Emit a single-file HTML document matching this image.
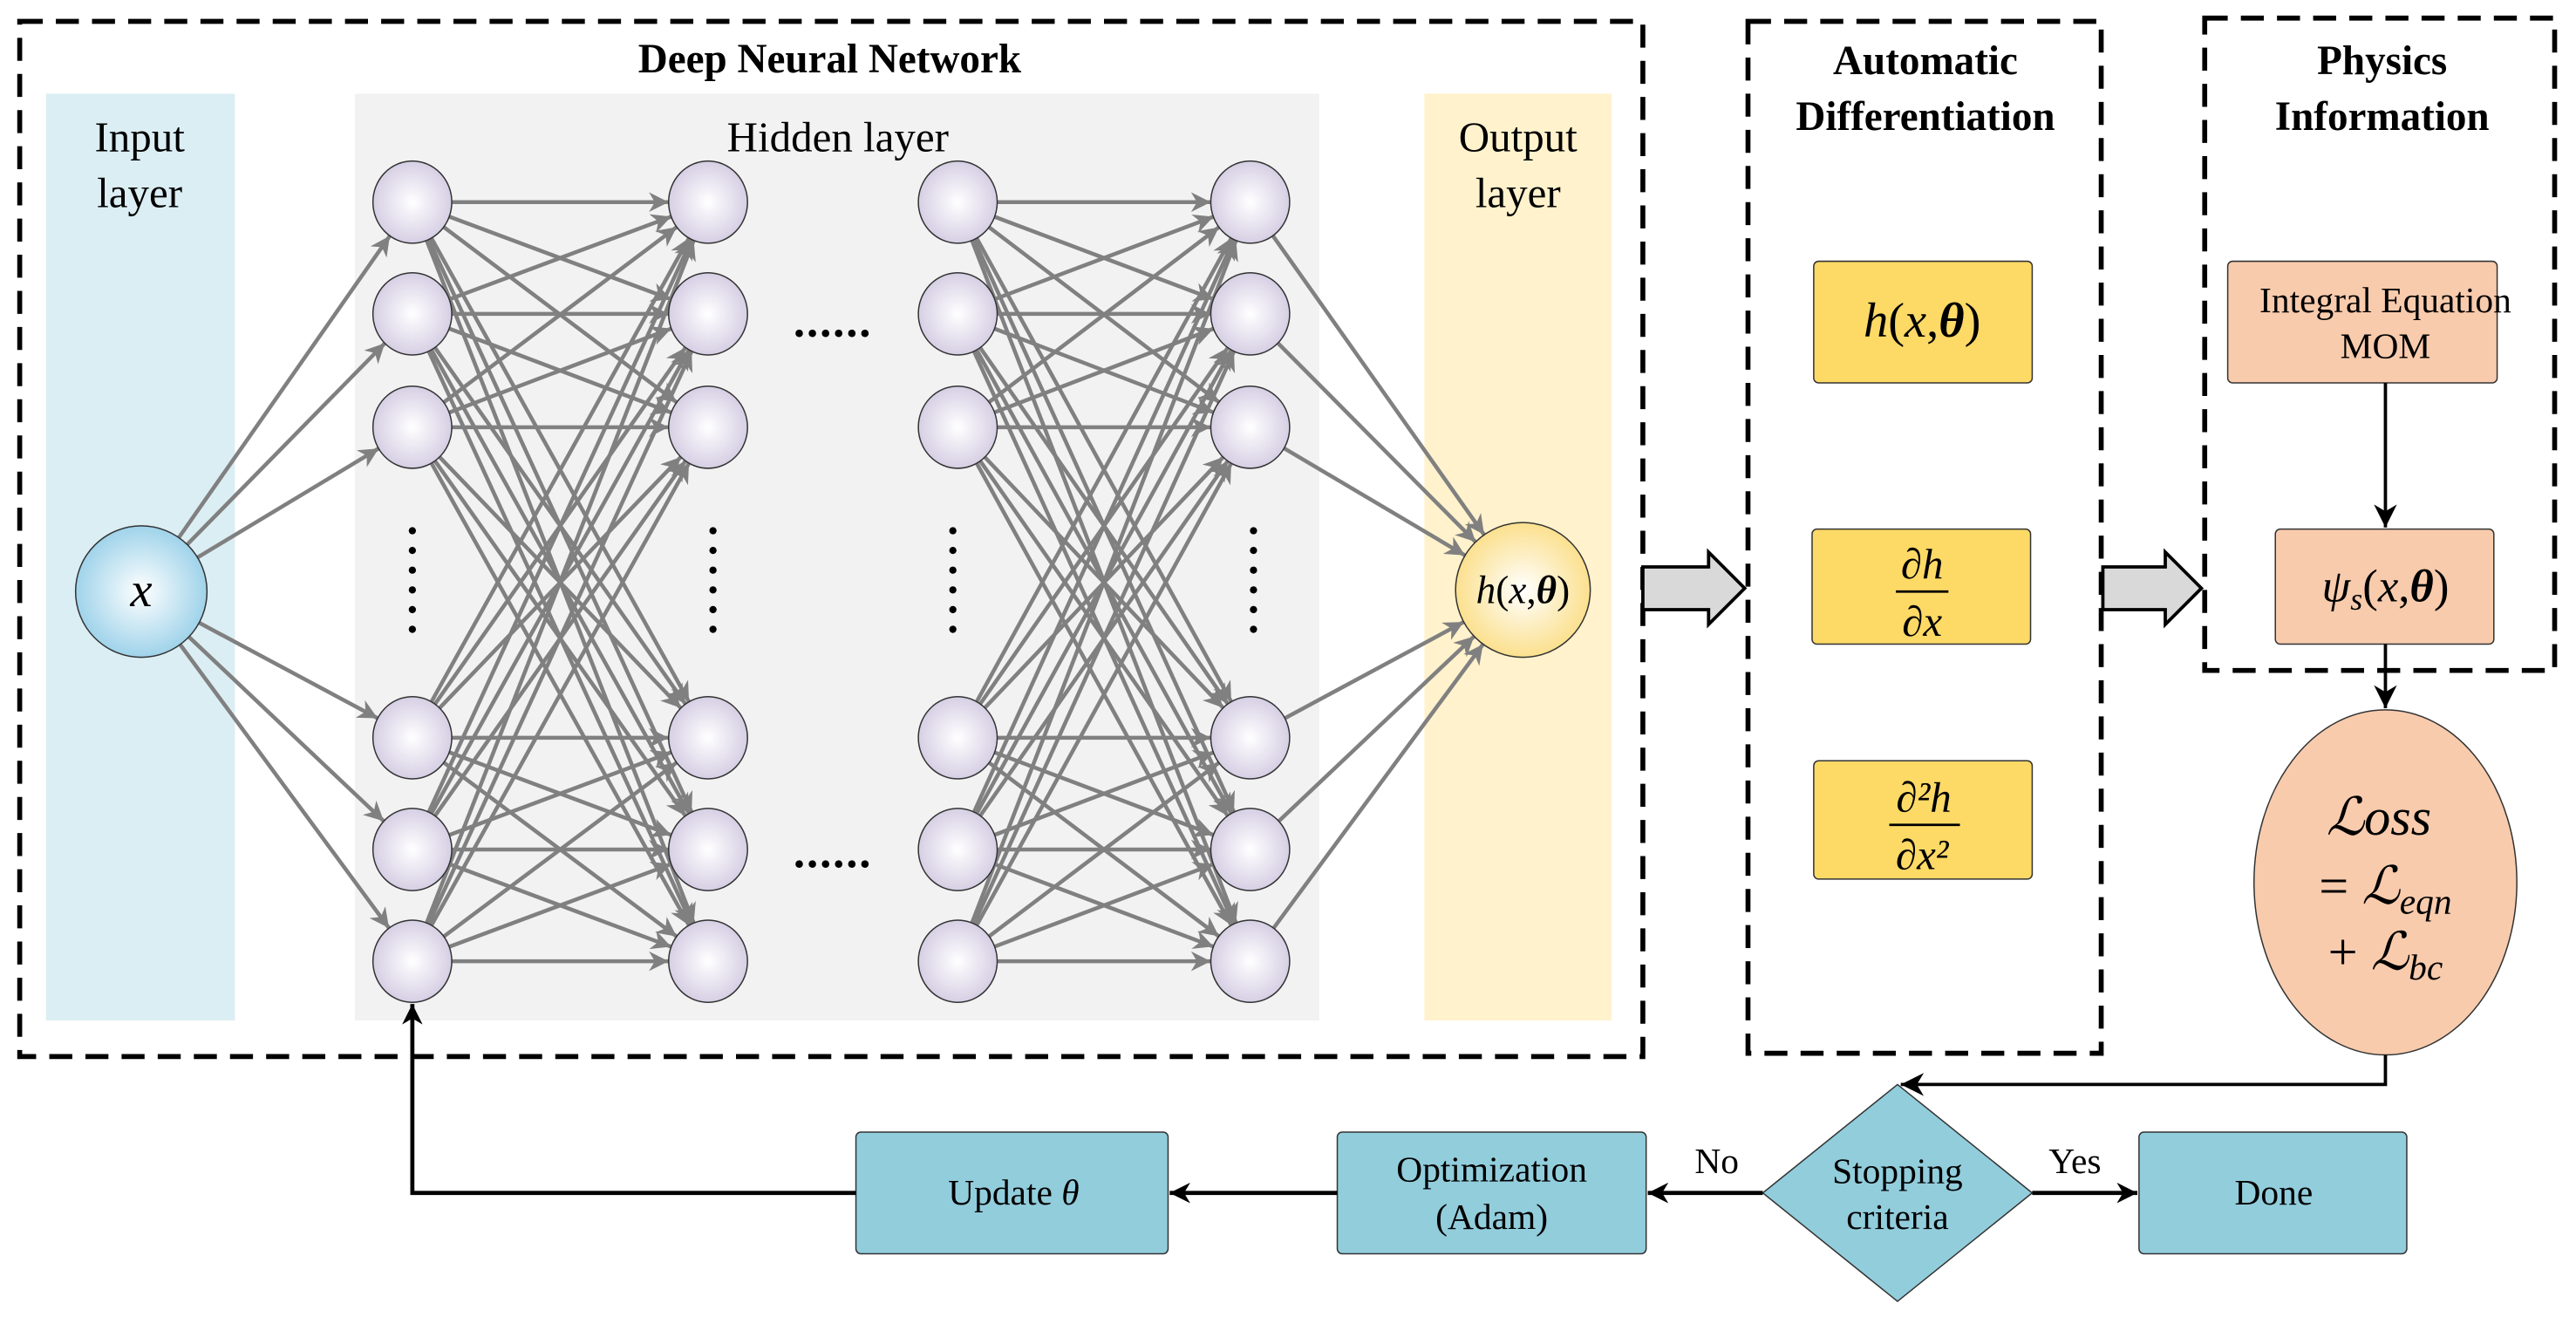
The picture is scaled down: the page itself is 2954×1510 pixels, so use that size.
<!DOCTYPE html>
<html><head><meta charset="utf-8">
<style>
html,body{margin:0;padding:0;background:#fff;}
svg{display:block;}
svg, svg text{font-family:"Liberation Serif","Times New Roman","DejaVu Serif",serif;}
</style></head>
<body>
<svg id="s" xmlns="http://www.w3.org/2000/svg" width="2954" height="1510" viewBox="0 0 1568 801.5" font-family="Liberation Serif, Times New Roman, DejaVu Serif, serif">
<defs>
<radialGradient id="gp" cx="50%" cy="50%" r="50%"><stop offset="0" stop-color="#ffffff"/><stop offset="1" stop-color="#d6cfe4"/></radialGradient>
<radialGradient id="gb" cx="50%" cy="50%" r="50%"><stop offset="0" stop-color="#ffffff"/><stop offset="1" stop-color="#9fd3ea"/></radialGradient>
<radialGradient id="gy" cx="50%" cy="50%" r="50%"><stop offset="0" stop-color="#ffffff"/><stop offset="1" stop-color="#fbe08e"/></radialGradient>
<marker id="ag" viewBox="0 0 10 10" refX="10" refY="5" markerWidth="5" markerHeight="5" orient="auto" markerUnits="strokeWidth"><path d="M0,0 L10,5 L0,10 L3,5 z" fill="#808080"/></marker>
<marker id="ak" viewBox="0 0 10 10" refX="10" refY="5" markerWidth="5" markerHeight="5" orient="auto" markerUnits="strokeWidth"><path d="M0,0 L10,5 L0,10 L3,5 z" fill="#000"/></marker>
<marker id="ak2" viewBox="0 0 10 10" refX="10" refY="5" markerWidth="7" markerHeight="7" orient="auto" markerUnits="strokeWidth"><path d="M0,0 L10,5 L0,10 L3,5 z" fill="#000"/></marker>
</defs>

<rect x="28" y="57" width="115" height="564" fill="#dbeef4"/>
<rect x="216" y="57" width="587" height="564" fill="#f2f2f2"/>
<rect x="867" y="57" width="114" height="564" fill="#fff2cc"/>

<g fill="none" stroke="#000" stroke-width="3" stroke-dasharray="14,8">
<rect x="12" y="13" width="988" height="630"/>
<rect x="1064" y="13" width="215" height="628"/>
<rect x="1342" y="11" width="213" height="397"/>
</g>

<text x="505" y="44" font-size="25" font-weight="bold" text-anchor="middle">Deep Neural Network</text>
<text x="85" y="92" font-size="26" text-anchor="middle">Input</text>
<text x="85" y="126" font-size="26" text-anchor="middle">layer</text>
<text x="510" y="92" font-size="26" text-anchor="middle">Hidden layer</text>
<text x="924" y="92" font-size="26" text-anchor="middle">Output</text>
<text x="924" y="126" font-size="26" text-anchor="middle">layer</text>

<g id="net" stroke="#808080" stroke-width="2.4" fill="none"></g>
<g id="nodes"></g>

<ellipse cx="86" cy="360" rx="40" ry="40" fill="url(#gb)" stroke="#333" stroke-width="0.8"/>
<text x="86" y="369" font-size="30" font-style="italic" text-anchor="middle">x</text>
<ellipse cx="927" cy="359" rx="41" ry="41" fill="url(#gy)" stroke="#333" stroke-width="0.8"/>
<text x="927" y="367" font-size="24" text-anchor="middle"><tspan font-style="italic">h</tspan>(<tspan font-style="italic">x</tspan>,<tspan font-weight="bold" font-style="italic">θ</tspan>)</text>

<g fill="#000" id="dots"></g>
<text x="507" y="205" font-size="28" text-anchor="middle" font-weight="bold" letter-spacing="1">......</text>
<text x="507" y="528" font-size="28" text-anchor="middle" font-weight="bold" letter-spacing="1">......</text>

<path d="M1000,345 L1040,345 L1040,336 L1062,358 L1040,380 L1040,371 L1000,371 Z" fill="#d9d9d9" stroke="#000" stroke-width="2"/>
<path d="M1280,345 L1318,345 L1318,336 L1340,358 L1318,380 L1318,371 L1280,371 Z" fill="#d9d9d9" stroke="#000" stroke-width="2"/>

<text x="1172" y="45" font-size="25" font-weight="bold" text-anchor="middle">Automatic</text>
<text x="1172" y="79" font-size="25" font-weight="bold" text-anchor="middle">Differentiation</text>
<text x="1450" y="45" font-size="25" font-weight="bold" text-anchor="middle">Physics</text>
<text x="1450" y="79" font-size="25" font-weight="bold" text-anchor="middle">Information</text>

<g stroke="#333" stroke-width="0.8">
<rect x="1104" y="159" width="133" height="74" rx="3" fill="#fdd966"/>
<rect x="1103" y="322" width="133" height="70" rx="3" fill="#fdd966"/>
<rect x="1104" y="463" width="133" height="72" rx="3" fill="#fdd966"/>
<rect x="1356" y="159" width="164" height="74" rx="3" fill="#f8cbad"/>
<rect x="1385" y="322" width="133" height="70" rx="3" fill="#f8cbad"/>
</g>
<text x="1170" y="205" font-size="30" text-anchor="middle"><tspan font-style="italic">h</tspan>(<tspan font-style="italic">x</tspan>,<tspan font-weight="bold" font-style="italic">θ</tspan>)</text>
<text x="1170" y="352" font-size="26" font-style="italic" text-anchor="middle">∂h</text>
<line x1="1154" y1="360" x2="1186" y2="360" stroke="#000" stroke-width="1.5"/>
<text x="1170" y="387" font-size="26" font-style="italic" text-anchor="middle">∂x</text>
<text x="1171" y="494" font-size="26" font-style="italic" text-anchor="middle">∂²h</text>
<line x1="1150" y1="502" x2="1193" y2="502" stroke="#000" stroke-width="1.5"/>
<text x="1170" y="529" font-size="26" font-style="italic" text-anchor="middle">∂x²</text>
<text x="1452" y="190" font-size="22" text-anchor="middle">Integral Equation</text>
<text x="1452" y="218" font-size="22" text-anchor="middle">MOM</text>
<text x="1452" y="366" font-size="28" text-anchor="middle"><tspan font-style="italic">ψ</tspan><tspan font-style="italic" font-size="19" dy="5">s</tspan><tspan dy="-5">(</tspan><tspan font-style="italic">x</tspan>,<tspan font-weight="bold" font-style="italic">θ</tspan>)</text>

<line x1="1452" y1="233" x2="1452" y2="321" stroke="#000" stroke-width="2" marker-end="url(#ak2)"/>
<line x1="1452" y1="392" x2="1452" y2="431" stroke="#000" stroke-width="2" marker-end="url(#ak2)"/>

<ellipse cx="1452" cy="537" rx="80" ry="105" fill="#f8cbad" stroke="#333" stroke-width="0.8"/>
<text x="1448" y="508" font-size="32" font-style="italic" text-anchor="middle">ℒoss</text>
<text x="1452" y="550" font-size="32" text-anchor="middle">= <tspan font-style="italic">ℒ</tspan><tspan font-style="italic" font-size="22" dy="6">eqn</tspan></text>
<text x="1452" y="590" font-size="32" text-anchor="middle">+ <tspan font-style="italic">ℒ</tspan><tspan font-style="italic" font-size="22" dy="6">bc</tspan></text>

<polyline points="1452,642 1452,660 1157,660" fill="none" stroke="#000" stroke-width="2" marker-end="url(#ak2)"/>

<polygon points="1155,660 1237,726 1155,792 1073,726" fill="#92cddc" stroke="#333" stroke-width="0.8"/>
<text x="1155" y="720" font-size="22" text-anchor="middle">Stopping</text>
<text x="1155" y="748" font-size="22" text-anchor="middle">criteria</text>

<g fill="#92cddc" stroke="#333" stroke-width="0.8">
<rect x="1302" y="689" width="163" height="74" rx="3"/>
<rect x="814" y="689" width="188" height="74" rx="3"/>
<rect x="521" y="689" width="190" height="74" rx="3"/>
</g>
<text x="1384" y="733" font-size="22" text-anchor="middle">Done</text>
<text x="908" y="719" font-size="22" text-anchor="middle">Optimization</text>
<text x="908" y="748" font-size="22" text-anchor="middle">(Adam)</text>
<text x="617" y="733" font-size="22" text-anchor="middle">Update <tspan font-style="italic">θ</tspan></text>
<text x="1263" y="714" font-size="22" text-anchor="middle">Yes</text>
<text x="1045" y="714" font-size="22" text-anchor="middle">No</text>

<g stroke="#000" stroke-width="2.5" fill="none">
<line x1="1237" y1="726" x2="1301" y2="726" marker-end="url(#ak)"/>
<line x1="1073" y1="726" x2="1003" y2="726" marker-end="url(#ak)"/>
<line x1="814" y1="726" x2="712" y2="726" marker-end="url(#ak)"/>
<polyline points="521,726 251,726 251,611" marker-end="url(#ak)"/>
</g>
</svg>
<script>
(function(){
var NS="http://www.w3.org/2000/svg";
var net=document.getElementById('net'),nodes=document.getElementById('nodes'),dots=document.getElementById('dots');
var cols=[251,431,583,761],rows=[123,191,260,449,517,585],rx=24,ry=25;
function ln(x1,y1,x2,y2){var l=document.createElementNS(NS,'line');l.setAttribute('x1',x1);l.setAttribute('y1',y1);l.setAttribute('x2',x2);l.setAttribute('y2',y2);l.setAttribute('marker-end','url(#ag)');net.appendChild(l);}
function edge(cx,cy,tx,ty,r1,r2){var dx=tx-cx,dy=ty-cy,d=Math.sqrt(dx*dx+dy*dy);return [cx+dx/d*r1,cy+dy/d*r2];}
rows.forEach(function(y){var a=edge(86,360,cols[0],y,40,40),b=edge(cols[0],y,86,360,rx,ry);ln(a[0],a[1],b[0],b[1]);});
[[0,1],[2,3]].forEach(function(p){rows.forEach(function(y1){rows.forEach(function(y2){
var a=edge(cols[p[0]],y1,cols[p[1]],y2,rx,ry),b=edge(cols[p[1]],y2,cols[p[0]],y1,rx,ry);ln(a[0],a[1],b[0],b[1]);});});});
rows.forEach(function(y){var a=edge(761,y,927,359,rx,ry),b=edge(927,359,761,y,41,41);ln(a[0],a[1],b[0],b[1]);});
cols.forEach(function(x){rows.forEach(function(y){var e=document.createElementNS(NS,'ellipse');e.setAttribute('cx',x);e.setAttribute('cy',y);e.setAttribute('rx',rx);e.setAttribute('ry',ry);e.setAttribute('fill','url(#gp)');e.setAttribute('stroke','#333');e.setAttribute('stroke-width','0.8');nodes.appendChild(e);});});
[251,434,580,763].forEach(function(x){for(var i=0;i<6;i++){var c=document.createElementNS(NS,'circle');c.setAttribute('cx',x);c.setAttribute('cy',323+i*12);c.setAttribute('r',2.2);dots.appendChild(c);}});
})();
</script>
</body></html>
